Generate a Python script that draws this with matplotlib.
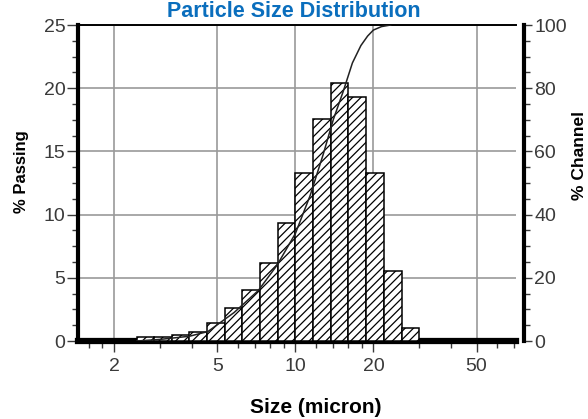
import numpy as np
import matplotlib as mpl
mpl.use("Agg")
import matplotlib.pyplot as plt
from matplotlib.ticker import FixedLocator, NullFormatter

# bin edges (micron) and % in each channel
edges = [2.44, 2.85, 3.33, 3.90, 4.56, 5.34, 6.24, 7.30, 8.55,
         10.0, 11.7, 13.7, 16.0, 18.7, 21.9, 25.7, 30.0]
heights = [0.3, 0.3, 0.5, 0.75, 1.4, 2.6, 4.0, 6.2, 9.3,
           13.3, 17.6, 20.4, 19.3, 13.3, 5.5, 1.0]

# cumulative curve
curve_size = [2.45, 3.0, 3.9, 4.6, 5.8, 7.2, 8.5, 10.0, 11.4, 12.8,
              14.0, 15.3, 16.6, 17.9, 19.0, 20.0, 21.5, 23.3]
curve_pct = [0.0, 0.5, 1.5, 3.0, 9.0, 16.0, 24.0, 34.0, 46.0, 59.0,
             70.0, 79.0, 88.0, 93.5, 96.5, 98.4, 99.5, 100.0]

xticks = [2, 5, 10, 20, 50]
xminor = [1.6, 1.8, 3, 4, 6, 7, 8, 9, 12, 14, 16, 18, 30, 40, 60, 70]

plt.rcParams['hatch.linewidth'] = 0.9
plt.rcParams['hatch.color'] = 'black'
font = ['Liberation Sans', 'DejaVu Sans']
plt.rcParams['font.family'] = font
tick_col = '#3a3a3a'

fig = plt.figure(figsize=(5.88, 4.19), dpi=100)
ax = fig.add_axes([78/588, 1-341/419, (516-78)/588, (341-25)/419])
ax2 = ax.twinx()

ax.bar(edges[:-1], heights, width=np.diff(edges), align='edge',
       facecolor='white', edgecolor='black', linewidth=1.1, hatch='////',
       zorder=3)
ax.set_xscale('log')
ax.set_xlim(1.45, 71)
ax.set_ylim(0, 25)
ax.xaxis.set_major_locator(FixedLocator(xticks))
ax.xaxis.set_minor_locator(FixedLocator(xminor))
ax.xaxis.set_minor_formatter(NullFormatter())
ax.set_xticklabels([str(v) for v in xticks])
ax.set_yticks([0, 5, 10, 15, 20, 25])
ax.yaxis.set_minor_locator(FixedLocator(np.arange(0, 25.1, 1.25)))
ax.grid(True, which='major', color='#9a9a9a', linewidth=1.2, zorder=0)
ax.set_axisbelow(True)

ax.spines['right'].set_visible(False)
ax.spines['top'].set_linewidth(1.4)
ax.spines['left'].set_linewidth(3)
ax.spines['bottom'].set_linewidth(4.5)
ax.tick_params(axis='y', which='major', length=8, width=1, pad=1,
               colors=tick_col, labelsize=14)
ax.tick_params(axis='y', which='minor', length=4, width=1, color=tick_col)
ax.tick_params(axis='x', which='major', length=8, width=1, pad=4,
               colors=tick_col, labelsize=14)
ax.tick_params(axis='x', which='minor', length=5, width=1, color=tick_col)

ax2.plot(curve_size, curve_pct, color='#222222', linewidth=1.1, zorder=4)
ax2.set_ylim(0, 100)
ax2.set_yticks([0, 20, 40, 60, 80, 100])
ax2.yaxis.set_minor_locator(FixedLocator(np.arange(0, 100.1, 5)))
for s in ['top', 'left', 'bottom']:
    ax2.spines[s].set_visible(False)
ax2.spines['right'].set_position(('outward', 6))
ax2.spines['right'].set_linewidth(3)
ax2.tick_params(axis='y', which='major', length=6, width=1, pad=1,
                colors=tick_col, labelsize=14)
ax2.tick_params(axis='y', which='minor', length=4, width=1, color=tick_col)

fig.text(0.5, 1-17/419, "Particle Size Distribution", ha='center',
         va='baseline', color='#0a6ebd', fontsize=15.5, fontweight='bold')
fig.text(22/588, 1-172/419, "% Passing", rotation=90, ha='center',
         va='center', fontsize=12, fontweight='bold')
fig.text(580/588, 1-156/419, "% Channel", rotation=90, ha='center',
         va='center', fontsize=12.5, fontweight='bold')
fig.text(316/588, 1-413/419, "Size (micron)", ha='center', va='baseline',
         fontsize=15, fontweight='bold')

fig.savefig("out.png", dpi=100)
